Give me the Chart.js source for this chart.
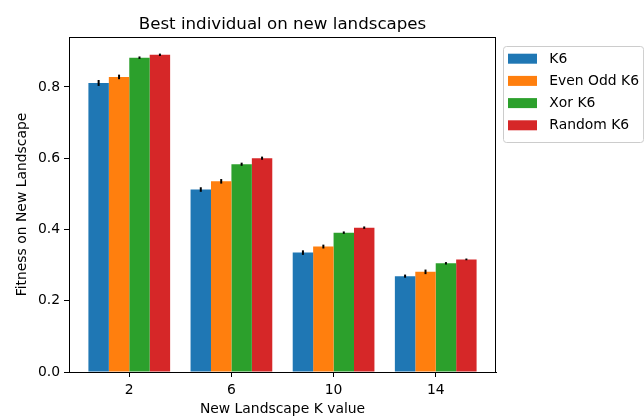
<!DOCTYPE html>
<html>
<head>
<meta charset="utf-8">
<script src="https://cdn.jsdelivr.net/npm/chart.js@4.4.1/dist/chart.umd.min.js"></script>
<style>
  html, body { margin: 0; padding: 0; background: #fff; }
  canvas { display: block; }
</style>
</head>
<body>
<canvas id="c" width="644" height="418"></canvas>
<script>
// New landscape K values (x categories)
const kValues = ['2', '6', '10', '14'];

// Mean fitness of the best individual per training landscape
const k6        = [0.811, 0.512, 0.335, 0.269];
const evenOddK6 = [0.828, 0.535, 0.352, 0.281];
const xorK6     = [0.882, 0.583, 0.391, 0.305];
const randomK6  = [0.890, 0.600, 0.405, 0.316];

// Standard errors
const k6Err        = [0.007, 0.005, 0.005, 0.003];
const evenOddK6Err = [0.005, 0.005, 0.004, 0.005];
const xorK6Err     = [0.002, 0.003, 0.002, 0.002];
const randomK6Err  = [0.002, 0.003, 0.002, 0.001];

const seriesNames = ['K6', 'Even Odd K6', 'Xor K6', 'Random K6'];
const yTicks = [0.0, 0.2, 0.4, 0.6, 0.8];

const FONT = 'DejaVu Sans';
const series = [k6, evenOddK6, xorK6, randomK6];
const errors = [k6Err, evenOddK6Err, xorK6Err, randomK6Err];
const colors = ['#1f77b4', '#ff7f0e', '#2ca02c', '#d62728'];

const datasets = series.map((vals, s) => ({
  label: seriesNames[s],
  data: vals.map((v, i) => ({ x: i, y: v })),
  errors: errors[s],
  backgroundColor: colors[s],
  borderWidth: 0,
  categoryPercentage: 0.8,
  barPercentage: 1.0
}));

// Axes frame on all four sides
const framePlugin = {
  id: 'frame',
  afterDatasetsDraw(chart) {
    const { ctx, chartArea: a } = chart;
    ctx.save();
    ctx.strokeStyle = '#000';
    ctx.lineWidth = 1;
    ctx.strokeRect(Math.round(a.left) + 0.5, Math.round(a.top) + 0.5,
                   Math.round(a.right - a.left) - 1, Math.round(a.bottom - a.top));
    ctx.restore();
  }
};

// Vertical error bars on each bar
const errorBarPlugin = {
  id: 'errorBars',
  afterDatasetsDraw(chart) {
    const { ctx } = chart;
    const yScale = chart.scales.y;
    ctx.save();
    ctx.strokeStyle = '#000';
    chart.data.datasets.forEach((ds, d) => {
      const meta = chart.getDatasetMeta(d);
      meta.data.forEach((bar, i) => {
        const v = ds.data[i].y, e = ds.errors[i];
        const x = bar.x;
        const y1 = yScale.getPixelForValue(v + e);
        const y2 = yScale.getPixelForValue(v - e);
        ctx.lineWidth = 2;
        ctx.beginPath();
        ctx.moveTo(x, y1 - 0.5);
        ctx.lineTo(x, y2 + 0.5);
        ctx.stroke();
      });
    });
    ctx.restore();
  }
};

// Title centred over the plot area
const titlePlugin = {
  id: 'plotTitle',
  afterDraw(chart) {
    const { ctx, chartArea: a } = chart;
    ctx.save();
    ctx.fillStyle = '#000';
    ctx.font = '16.67px "' + FONT + '"';
    ctx.textAlign = 'center';
    ctx.textBaseline = 'alphabetic';
    ctx.fillText('Best individual on new landscapes', (a.left + a.right) / 2, 29);
    ctx.restore();
  }
};

// Legend box placed outside the axes, upper left corner
const legendPlugin = {
  id: 'sideLegend',
  afterDraw(chart) {
    const { ctx, chartArea: a } = chart;
    const fs = 13.9;
    const left = a.right + 7, top = a.top + 8.5;
    const rowH = 22.2;
    const n = chart.data.datasets.length;
    ctx.save();
    ctx.font = fs + 'px "' + FONT + '"';
    let maxW = 0;
    chart.data.datasets.forEach(ds => { maxW = Math.max(maxW, ctx.measureText(ds.label).width); });
    const w = 5.6 + 28 + 11.2 + maxW + 5.6;
    const h = 5.6 + n * rowH - 7 + 5.6 + 3;
    ctx.fillStyle = 'rgba(255,255,255,0.8)';
    ctx.strokeStyle = '#cccccc';
    ctx.lineWidth = 1;
    ctx.beginPath();
    ctx.roundRect(Math.round(left) + 0.5, Math.round(top) + 0.5, w, h, 3);
    ctx.fill();
    ctx.stroke();
    ctx.textAlign = 'left';
    ctx.textBaseline = 'middle';
    chart.data.datasets.forEach((ds, i) => {
      const cy = top + 13.2 + i * rowH;
      ctx.fillStyle = ds.backgroundColor;
      ctx.fillRect(left + 5, cy - 5, 29, 10);
      ctx.fillStyle = '#000';
      ctx.fillText(ds.label, left + 46.3, cy + 0.5);
    });
    ctx.restore();
  }
};

new Chart(document.getElementById('c'), {
  type: 'bar',
  data: { datasets },
  options: {
    responsive: false,
    devicePixelRatio: 1,
    animation: false,
    layout: { padding: { top: 37, right: 148, left: 0, bottom: 0 } },
    plugins: {
      legend: { display: false },
      tooltip: { enabled: false },
      title: { display: false }
    },
    scales: {
      x: {
        type: 'linear',
        offset: false,
        min: -0.59,
        max: kValues.length - 1 + 0.59,
        afterBuildTicks(scale) { scale.ticks = kValues.map((_, i) => ({ value: i })); },
        afterFit(scale) { scale.height = 46; },
        ticks: {
          callback: (v) => kValues[v],
          color: '#000',
          font: { family: FONT, size: 13.9 },
          padding: 5,
          maxRotation: 0,
          autoSkip: false
        },
        grid: { offset: false, drawOnChartArea: false, drawTicks: true, tickLength: 5, color: '#000', tickWidth: 1 },
        border: { display: true, color: '#000', width: 1 },
        title: {
          display: true,
          text: 'New Landscape K value',
          color: '#000',
          font: { family: FONT, size: 13.9 },
          padding: { top: 0, bottom: 0 }
        }
      },
      y: {
        min: 0,
        max: 0.94,
        afterBuildTicks(scale) { scale.ticks = yTicks.map(v => ({ value: v })); },
        afterFit(scale) { scale.width = 69; },
        ticks: {
          callback: (v) => v.toFixed(1),
          color: '#000',
          font: { family: FONT, size: 13.9 },
          padding: 4
        },
        grid: { drawOnChartArea: false, drawTicks: true, tickLength: 5, color: '#000', tickWidth: 1 },
        border: { display: true, color: '#000', width: 1 },
        title: {
          display: true,
          text: 'Fitness on New Landscape',
          color: '#000',
          font: { family: FONT, size: 13.9 },
          padding: { top: 14, bottom: 0 }
        }
      }
    }
  },
  plugins: [framePlugin, errorBarPlugin, titlePlugin, legendPlugin]
});
</script>
</body>
</html>
